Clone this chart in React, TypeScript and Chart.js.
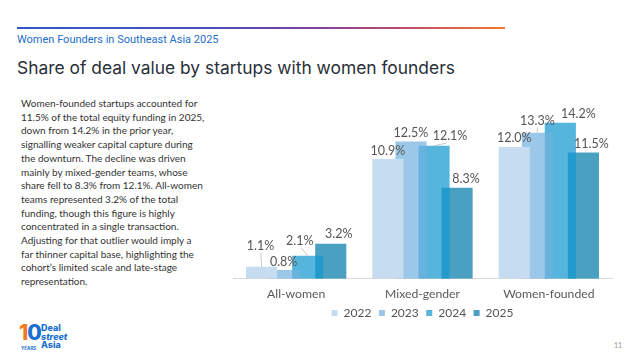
import React, { useEffect, useRef } from "react";
import { Chart, registerables } from "chart.js";

Chart.register(...registerables);

const categories = ["All-women", "Mixed-gender", "Women-founded"];
const years = ["2022", "2023", "2024", "2025"];
const v2022 = [1.1, 10.9, 12.0];
const v2023 = [0.8, 12.5, 13.3];
const v2024 = [2.1, 12.1, 14.2];
const v2025 = [3.2, 8.3, 11.5];
const seriesValues = [v2022, v2023, v2024, v2025];

const seriesColors = [
  "rgba(198,220,240,1)",
  "rgba(112,176,222,0.7)",
  "rgba(19,152,208,0.72)",
  "rgba(7,125,169,0.73)",
];

// label placement offsets (style), relative to bar top centre
const labelDx = [
  [-1, 0, 0],
  [-1, 0, 0],
  [-8, 16, 18],
  [8, 9, 8],
];
const labelDy = [
  [-21, -9, -9.5],
  [-9, -9, -12],
  [-15, -10, -9],
  [-10, -9, -9],
];
const leaders = [
  [true, false, false],
  [false, false, true],
  [true, true, false],
  [false, false, false],
];

const bodyLines = [
  "Women-founded startups accounted for",
  "11.5% of the total equity funding in 2025,",
  "down from 14.2% in the prior year,",
  "signalling weaker capital capture during",
  "the downturn. The decline was driven",
  "mainly by mixed-gender teams, whose",
  "share fell to 8.3% from 12.1%. All-women",
  "teams represented 3.2% of the total",
  "funding, though this figure is highly",
  "concentrated in a single transaction.",
  "Adjusting for that outlier would imply a",
  "far thinner capital base, highlighting the",
  "cohort’s limited scale and late-stage",
  "representation.",
];

const LEGEND_SHIFT = -10;

const legendShiftPlugin = {
  id: "legendShift",
  afterLayout(chart: any) {
    const lg = chart.legend;
    if (lg) {
      lg.top += LEGEND_SHIFT;
      lg.bottom += LEGEND_SHIFT;
    }
  },
};

const labelPlugin = {
  id: "barLabels",
  afterDatasetsDraw(chart: any) {
    const ctx = chart.ctx;
    ctx.save();
    ctx.font = "12.5px Lato";
    ctx.textAlign = "center";
    ctx.textBaseline = "middle";
    chart.data.datasets.forEach((ds: any, i: number) => {
      const meta = chart.getDatasetMeta(i);
      meta.data.forEach((bar: any, j: number) => {
        const bx = bar.x;
        const by = bar.y;
        const lx = bx + labelDx[i][j];
        const ly = by + labelDy[i][j];
        if (leaders[i][j]) {
          ctx.strokeStyle = "#c8c8c8";
          ctx.lineWidth = 1;
          ctx.beginPath();
          ctx.moveTo(lx - labelDx[i][j] * 0.2, ly + 7);
          ctx.lineTo(bx, by);
          ctx.stroke();
        }
        ctx.fillStyle = "#555555";
        ctx.fillText(ds.data[j].toFixed(1) + "%", lx, ly + 0.5);
      });
    });
    ctx.restore();
  },
};

function BarChart() {
  const ref = useRef<HTMLCanvasElement>(null);
  useEffect(() => {
    if (!ref.current) return;
    const chart = new Chart(ref.current, {
      type: "bar",
      data: {
        labels: categories,
        datasets: years.map((y, i) => ({
          label: y,
          data: seriesValues[i],
          backgroundColor: seriesColors[i],
          borderWidth: 0,
          barPercentage: 1.35,
          categoryPercentage: 0.73,
        })),
      },
      options: {
        animation: false,
        responsive: false,
        maintainAspectRatio: false,
        layout: { padding: { top: 8, right: 6, left: 0, bottom: 0 } },
        scales: {
          x: {
            grid: { display: false, drawTicks: false },
            border: { display: true, color: "#d9d9d9", width: 1 },
            ticks: { padding: 8, color: "#595959", font: { family: "Lato", size: 12.2 } },
          },
          y: { display: false, min: 0, max: 16 },
        },
        plugins: {
          legend: {
            position: "bottom",
            labels: {
              boxWidth: 6,
              boxHeight: 6,
              padding: 7.5,
              color: "#555555",
              font: { family: "Lato", size: 12 },
            },
          },
          tooltip: { enabled: false },
        },
      } as any,
      plugins: [labelPlugin, legendShiftPlugin],
    });
    return () => chart.destroy();
  }, []);
  return (
    <canvas
      ref={ref}
      width={385}
      height={244}
      style={{ position: "absolute", left: 233, top: 95, width: 385, height: 244 }}
    />
  );
}

export default function App() {
  return (
    <div
      style={{
        position: "absolute",
        left: 0,
        top: 0,
        width: 640,
        height: 360,
        background: "#ffffff",
        overflow: "hidden",
      }}
    >
      <div
        style={{
          position: "absolute",
          left: 17,
          top: 27,
          width: 488,
          height: 1.5,
          background: "linear-gradient(90deg, #3556c4 0%, #4a4fbb 40%, #7a3f9f 60%, #c04d6a 80%, #f07a2c 100%)",
        }}
      />
      <div
        style={{
          position: "absolute",
          left: 17,
          top: 33,
          fontFamily: "Roboto, 'Open Sans', sans-serif",
          fontSize: 11,
          color: "#1c6fc9",
          whiteSpace: "nowrap",
        }}
      >
        Women Founders in Southeast Asia 2025
      </div>
      <div
        style={{
          position: "absolute",
          left: 17,
          top: 57,
          fontFamily: "Inter, 'Open Sans', sans-serif",
          fontSize: 17.4,
          color: "#2a2f3a",
          whiteSpace: "nowrap",
        }}
      >
        Share of deal value by startups with women founders
      </div>
      <div
        style={{
          position: "absolute",
          left: 21,
          top: 97,
          fontFamily: "Lato, sans-serif",
          fontSize: 10,
          lineHeight: "13.7px",
          color: "#333333",
          whiteSpace: "nowrap",
        }}
      >
        {bodyLines.map((l, i) => (
          <div key={i}>{l}</div>
        ))}
      </div>
      <BarChart />
      <div style={{ position: "absolute", left: 19, top: 322, width: 70, height: 34 }}>
        <div
          style={{
            position: "absolute",
            left: 0,
            top: 0,
            fontFamily: "Inter, sans-serif",
            fontWeight: 800,
            fontSize: 21,
            lineHeight: "22px",
            letterSpacing: -1,
          }}
        >
          <span style={{ color: "#f07a1e" }}>1</span>
          <span style={{ color: "#1a6fd0" }}>0</span>
        </div>
        <div
          style={{
            position: "absolute",
            left: 2,
            top: 24,
            fontFamily: "Inter, sans-serif",
            fontWeight: 700,
            fontSize: 4.5,
            color: "#1a6fd0",
          }}
        >
          YEARS
        </div>
        <div
          style={{
            position: "absolute",
            left: 22,
            top: 2,
            fontFamily: "Inter, sans-serif",
            fontWeight: 800,
            fontSize: 9,
            lineHeight: "8.5px",
            color: "#1a6fd0",
          }}
        >
          <div>Deal</div>
          <div style={{ fontStyle: "italic" }}>street</div>
          <div>Asia</div>
        </div>
      </div>
      <div
        style={{
          position: "absolute",
          left: 614,
          top: 341,
          fontFamily: "Lato, sans-serif",
          fontSize: 7,
          color: "#999999",
        }}
      >
        11
      </div>
    </div>
  );
}
